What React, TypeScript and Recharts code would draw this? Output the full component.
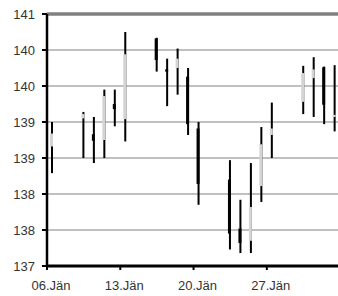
import React from 'react';
import { ComposedChart, Bar, XAxis, YAxis, CartesianGrid, ReferenceLine } from 'recharts';

document.body.style.margin = '0';

const dates = [
  '2017-01-06', '2017-01-09', '2017-01-10', '2017-01-11', '2017-01-12', '2017-01-13',
  '2017-01-16', '2017-01-17', '2017-01-18', '2017-01-19', '2017-01-20',
  '2017-01-23', '2017-01-24', '2017-01-25', '2017-01-26', '2017-01-27',
  '2017-01-30', '2017-01-31', '2017-02-01', '2017-02-02',
];
const opens = [
  139.16, 139.55, 139.33, 139.25, 139.75, 139.54,
  140.66, 140.23, 140.25, 140.13, 139.41,
  138.70, 138.02, 137.85, 138.61, 139.32,
  139.78, 140.11, 140.26, 139.57,
];
const highs = [
  139.50, 139.64, 139.57, 139.95, 139.95, 140.75,
  140.67, 140.38, 140.52, 140.25, 139.50,
  138.97, 138.42, 138.93, 139.43, 139.77,
  140.28, 140.40, 140.27, 140.29,
];
const lows = [
  138.79, 139.00, 138.93, 139.00, 139.44, 139.23,
  140.20, 139.72, 139.88, 139.32, 138.35,
  137.73, 137.68, 137.68, 138.39, 139.00,
  139.61, 139.57, 139.47, 139.37,
];
const closes = [
  139.34, 139.61, 139.24, 139.86, 139.68, 140.44,
  140.36, 140.20, 140.38, 139.47, 138.64,
  137.95, 137.82, 138.32, 139.19, 139.41,
  140.18, 140.23, 139.74, 139.60,
];
const yTicks = [137.5, 138, 138.5, 139, 139.5, 140, 140.5, 141];
const xTickDates = ['2017-01-06', '2017-01-13', '2017-01-20', '2017-01-27'];

const start = Date.parse('2017-01-06');
const dayOf = (s: string) => (Date.parse(s) - start) / 86400000;

const data = dates.map((d, i) => ({
  x: dayOf(d) + 0.5,
  open: opens[i],
  high: highs[i],
  low: lows[i],
  close: closes[i],
  range: [lows[i], highs[i]],
}));

const formatDay = (d: number) => {
  const dt = new Date(start + d * 86400000);
  return String(dt.getUTCDate()).padStart(2, '0') + '.Jän';
};

const Candle = (props: any) => {
  const { x, y, width, height, payload } = props;
  const { open, close, high, low } = payload;
  const cx = x + width / 2;
  const top = Math.min(y, y + height);
  const h = Math.abs(height);
  const ratio = h / (high - low);
  const up = close >= open;
  const bodyTop = top + (high - Math.max(open, close)) * ratio;
  const bodyH = Math.max(Math.abs(close - open) * ratio, 1.5);
  return (
    <g>
      <rect x={cx - 1} y={top} width={2} height={h} fill="#000" />
      <rect x={cx - 2} y={bodyTop} width={3} height={bodyH} fill={up ? '#d4d4d4' : '#000'} />
    </g>
  );
};

const tickStyle = { fill: '#333', fontSize: 13, fontFamily: 'Liberation Sans, Arial, sans-serif' };

export default function App() {
  return (
    <ComposedChart width={338} height={296} data={data} margin={{ top: 14, right: 0, left: 0, bottom: 0 }}>
      <CartesianGrid vertical={false} stroke="#c0c0c0" strokeWidth={2} />
      <ReferenceLine y={141} stroke="#808080" strokeWidth={3.5} />
      <XAxis
        type="number"
        dataKey="x"
        domain={[0, 27.8]}
        ticks={xTickDates.map(dayOf)}
        tickFormatter={formatDay}
        height={30}
        tickSize={4}
        tickMargin={11}
        dx={4}
        tick={tickStyle}
        axisLine={{ stroke: '#000', strokeWidth: 3 }}
        tickLine={{ stroke: '#000', strokeWidth: 2 }}
      />
      <YAxis
        domain={[137.5, 141]}
        ticks={yTicks}
        tickFormatter={(v: number) => String(Math.floor(v))}
        width={47}
        tickSize={5}
        tickMargin={7}
        tick={tickStyle}
        axisLine={{ stroke: '#000', strokeWidth: 2.5 }}
        tickLine={{ stroke: '#000', strokeWidth: 2 }}
        interval={0}
      />
      <Bar dataKey="range" barSize={4} shape={<Candle />} isAnimationActive={false} />
    </ComposedChart>
  );
}
